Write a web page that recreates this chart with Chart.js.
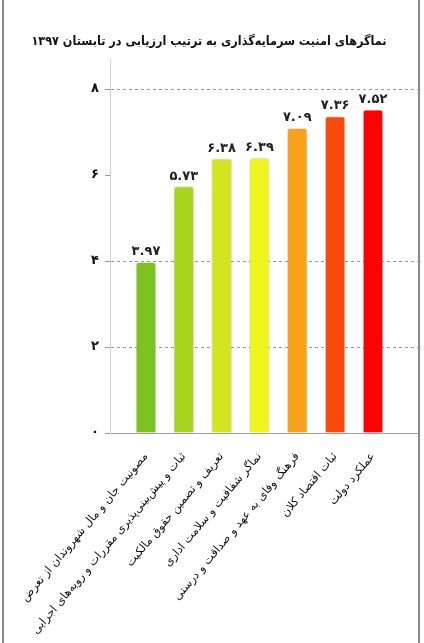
<!DOCTYPE html>
<html lang="fa">
<head>
<meta charset="utf-8">
<script src="https://cdn.jsdelivr.net/npm/chart.js@4"></script>
<style>
  body { margin: 0; background: #fff; }
  #wrap { position: relative; width: 424px; height: 643px; }
  .edge { position: absolute; top: 0; bottom: 0; width: 2px; background: #8a8a8a; }
</style>
</head>
<body>
<div id="wrap">
  <canvas id="dash" width="424" height="643"></canvas>
  <div class="edge" style="left:2px"></div>
  <div class="edge" style="left:418px"></div>
</div>
<script>
  const categories = [
    "مصونیت جان و مال شهروندان از تعرض",
    "ثبات و پیش‌بینی‌پذیری مقررات و رویه‌های اجرایی",
    "تعریف و تضمین حقوق مالکیت",
    "نماگر شفافیت و سلامت اداری",
    "فرهنگ وفای به عهد و صداقت و درستی",
    "ثبات اقتصاد کلان",
    "عملکرد دولت",
  ];
  const scores = [3.97, 5.73, 6.38, 6.39, 7.09, 7.36, 7.52];
  const yTicks = [0, 2, 4, 6, 8];
  const barColors = ["#7dc21e", "#a9d41f", "#d3e421", "#f1f51e", "#f7a21a", "#fc4a0c", "#ff0000"];

  const faDigits = "۰۱۲۳۴۵۶۷۸۹";
  function fa(v) {
    return String(v).replace(/[0-9]/g, d => faDigits[d]);
  }

  // اعداد بالای ستون ها
  const valueLabels = {
    id: "valueLabels",
    afterDatasetsDraw(chart) {
      const ctx = chart.ctx;
      const meta = chart.getDatasetMeta(0);
      ctx.save();
      ctx.font = "bold 13px 'DejaVu Sans'";
      ctx.fillStyle = "#222";
      ctx.textAlign = "center";
      ctx.textBaseline = "bottom";
      meta.data.forEach((bar, i) => {
        ctx.fillText(fa(scores[i].toFixed(2)), bar.x, bar.y - 4);
      });
      ctx.restore();
    },
  };

  const dash = document.getElementById("dash");

  new Chart(dash, {
    type: "bar",
    data: {
      datasets: [
        {
          data: scores.map((v, i) => ({ x: i, y: v })),
          backgroundColor: barColors,
          borderColor: "rgba(0,0,0,0.12)",
          borderWidth: 1,
          borderSkipped: "bottom",
          borderRadius: { topLeft: 3, topRight: 3 },
          barThickness: 20,
        },
      ],
    },
    plugins: [valueLabels],
    options: {
      responsive: false,
      animation: false,
      devicePixelRatio: 1,
      layout: { padding: { left: 0, right: 6, top: 0, bottom: 0 } },
      scales: {
        x: {
          type: "linear",
          offset: false,
          min: -0.95,
          max: 7.19,
          afterBuildTicks: (scale) => {
            scale.ticks = categories.map((_, i) => ({ value: i }));
          },
          afterFit: (scale) => {
            scale.height = 210;
          },
          grid: { display: false },
          border: { display: true, color: "#a0a0a0", width: 1 },
          ticks: {
            autoSkip: false,
            minRotation: 50,
            maxRotation: 50,
            padding: 9,
            color: "#111",
            font: { family: "DejaVu Sans", size: 11.5 },
            callback: (v) => categories[v],
          },
        },
        y: {
          min: 0,
          max: 8.7,
          afterBuildTicks: (scale) => {
            scale.ticks = yTicks.map((v) => ({ value: v }));
          },
          afterFit: (scale) => {
            scale.width = 110;
          },
          grid: {
            color: (c) => (c.tick && (c.tick.value === 6 || c.tick.value === 0) ? "rgba(0,0,0,0)" : "#9a9a9a"),
            tickColor: "#9a9a9a",
            tickLength: 5,
            tickBorderDash: [],
          },
          border: { display: true, color: "#d0d0d0", dash: [3, 3] },
          ticks: {
            padding: 6,
            color: "#111",
            font: { family: "DejaVu Sans", size: 13, weight: "bold" },
            callback: (v) => fa(v),
          },
        },
      },
      plugins: {
        legend: { display: false },
        tooltip: { enabled: false },
        title: {
          display: true,
          text: "نماگرهای امنیت سرمایه‌گذاری به ترتیب ارزیابی در تابستان ۱۳۹۷",
          color: "#111",
          font: { family: "DejaVu Sans Condensed", size: 12.5, weight: "bold" },
          padding: { top: 34, bottom: 10 },
        },
      },
    },
  });
</script>
</body>
</html>
